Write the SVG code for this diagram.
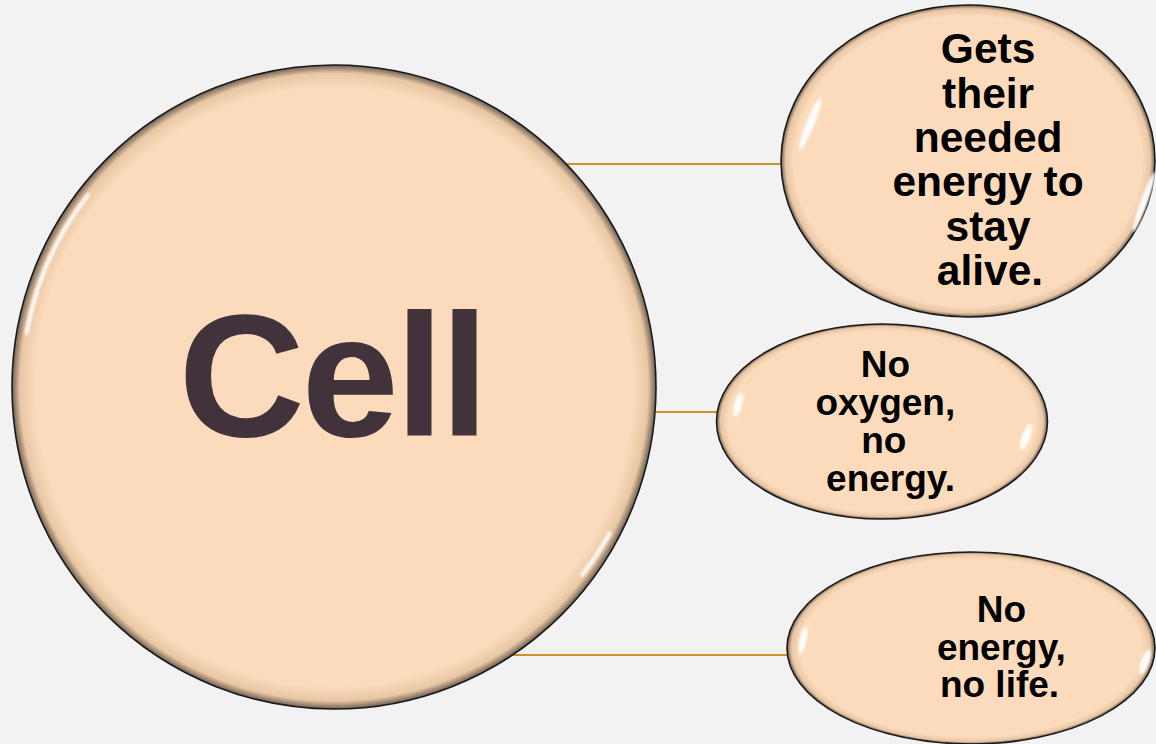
<svg xmlns="http://www.w3.org/2000/svg" width="1156" height="744" viewBox="0 0 1156 744">
  <defs>
    <radialGradient id="bevel" cx="0.5" cy="0.5" r="0.5">
      <stop offset="0" stop-color="#fbdbbc"/>
      <stop offset="0.93" stop-color="#fbdbbc"/>
      <stop offset="0.975" stop-color="#e9c7a4"/>
      <stop offset="1" stop-color="#6e6054"/>
    </radialGradient>
    <filter id="blur" x="-50%" y="-50%" width="200%" height="200%">
      <feGaussianBlur stdDeviation="1.3"/>
    </filter>
    <style>
      .shape { fill: url(#bevel); stroke: #1a1a1a; stroke-width: 1.6; }
      .glint { fill: #ffffff; filter: url(#blur); opacity: 0.95; }
      .glintarc { fill: none; stroke: #ffffff; stroke-width: 4; stroke-linecap: round; filter: url(#blur); opacity: 0.9; }
      .conn { stroke: #c8952c; stroke-width: 2; fill: none; }
      .lbl { font-family: "Liberation Sans", Arial, sans-serif; font-weight: bold; fill: #000000; text-anchor: middle; }
      .title { font-family: "Liberation Sans", Arial, sans-serif; font-weight: bold; fill: #41323c; text-anchor: middle; font-size: 175px; letter-spacing: -3.5px; }
    </style>
  </defs>
  <rect width="1156" height="744" fill="#f2f2f2"/>

  <g id="connectors">
    <line class="conn" x1="566" y1="164" x2="782" y2="164"/>
    <line class="conn" x1="654" y1="412" x2="717" y2="412"/>
    <line class="conn" x1="511" y1="655" x2="788" y2="655"/>
  </g>

  <g id="cell">
    <circle class="shape" cx="334" cy="387" r="322"/>
    <path class="glintarc" d="M 26.7 332.8 A 312 312 0 0 1 88.1 194.9"/>
    <path class="glintarc" d="M 609.5 533.5 A 312 312 0 0 1 582 575" stroke-width="3"/>
    <text class="title" x="332" y="436">Cell</text>
  </g>

  <g id="node-energy">
    <ellipse class="shape" cx="968" cy="161" rx="187" ry="156"/>
    <ellipse class="glint" cx="810" cy="124" rx="4" ry="28" transform="rotate(22 810 124)"/>
    <ellipse class="glint" cx="1144" cy="202" rx="3.5" ry="32" transform="rotate(20 1144 202)"/>
    <text class="lbl" font-size="42.5">
      <tspan x="994" y="63">Gets</tspan>
      <tspan x="994" y="108">their</tspan>
      <tspan x="994" y="152">needed</tspan>
      <tspan x="994" y="196">energy to</tspan>
      <tspan x="994" y="241">stay</tspan>
      <tspan x="990" y="285">alive.</tspan>
    </text>
  </g>

  <g id="node-oxygen">
    <ellipse class="shape" cx="882" cy="421.5" rx="165.5" ry="97.5"/>
    <ellipse class="glint" cx="738" cy="405" rx="4" ry="12" transform="rotate(15 738 405)"/>
    <ellipse class="glint" cx="1026" cy="437" rx="4" ry="14" transform="rotate(20 1026 437)"/>
    <text class="lbl" font-size="37">
      <tspan x="890.5" y="377">No</tspan>
      <tspan x="890.5" y="415">oxygen,</tspan>
      <tspan x="889" y="453">no</tspan>
      <tspan x="890.5" y="491">energy.</tspan>
    </text>
  </g>

  <g id="node-life">
    <ellipse class="shape" cx="971" cy="648" rx="184" ry="96"/>
    <ellipse class="glint" cx="803" cy="640" rx="3.5" ry="14" transform="rotate(12 803 640)"/>
    <ellipse class="glint" cx="1145" cy="662" rx="4" ry="13" transform="rotate(20 1145 662)"/>
    <text class="lbl" font-size="37">
      <tspan x="1006.5" y="622">No</tspan>
      <tspan x="1006.5" y="659.5">energy,</tspan>
      <tspan x="999.5" y="697">no life.</tspan>
    </text>
  </g>
</svg>
